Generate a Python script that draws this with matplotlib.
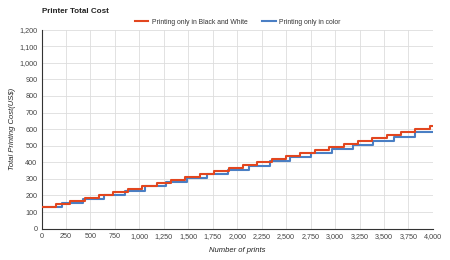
import matplotlib
matplotlib.use("Agg")
import matplotlib.pyplot as plt
from matplotlib.ticker import FuncFormatter

# Step points (prints, total cost in US$)
bw_prints = [0, 147, 294, 441, 588, 735, 882, 1029, 1176, 1323, 1470, 1617, 1764,
             1911, 2058, 2205, 2352, 2499, 2646, 2793, 2940, 3087, 3234, 3381,
             3528, 3675, 3822, 3969, 4000]
bw_cost = [130, 148, 166, 184, 202, 220, 238, 256, 274, 292, 310, 328, 346,
           364, 382, 400, 418, 436, 454, 472, 490, 508, 526, 544,
           562, 580, 598, 616, 616]

color_prints = [0, 212, 424, 636, 848, 1060, 1272, 1484, 1696, 1908, 2120, 2332,
                2544, 2756, 2968, 3180, 3392, 3604, 3816, 4000]
color_cost = [130, 155, 180, 205, 230, 255, 280, 305, 330, 355, 380, 405,
              430, 455, 480, 505, 530, 555, 580, 580]

x_ticks = list(range(0, 4001, 250))
y_ticks = list(range(0, 1201, 100))

plt.rcParams["font.family"] = ["Liberation Sans", "DejaVu Sans"]

fig = plt.figure(figsize=(4.5, 2.6), dpi=100)
ax = fig.add_axes([0.0924, 0.1204, 0.8696, 0.7661])

ax.step(color_prints, color_cost, where="post", color="#4a7fc4", lw=1.5,
        label="Printing only in color", zorder=3)
ax.step(bw_prints, bw_cost, where="post", color="#e2461f", lw=1.5,
        label="Printing only in Black and White", zorder=4)

ax.set_xlim(0, 4000)
ax.set_ylim(0, 1200)
ax.set_xticks(x_ticks)
ax.set_yticks(y_ticks)
fmt = FuncFormatter(lambda v, p: f"{int(v):,}")
ax.xaxis.set_major_formatter(fmt)
ax.yaxis.set_major_formatter(fmt)
ax.tick_params(length=0, labelsize=5.2, labelcolor="#444444", pad=3)
ax.grid(True, color="#dddddd", lw=0.6)
ax.set_axisbelow(True)
for s in ["top", "right"]:
    ax.spines[s].set_visible(False)
for s in ["left", "bottom"]:
    ax.spines[s].set_color("#333333")
    ax.spines[s].set_linewidth(0.8)

ax.set_xlabel("Number of prints", fontsize=5.5, style="italic", color="#222222", labelpad=5)
ax.set_ylabel("Total Printing Cost(US$)", fontsize=5.5, style="italic", color="#222222", labelpad=2)

fig.text(0.093, 0.955, "Printer Total Cost", fontsize=5.8, fontweight="bold",
         ha="left", va="center", color="#222222")

handles, labels = ax.get_legend_handles_labels()
ax.legend(handles[::-1], labels[::-1], ncol=2, frameon=False, fontsize=4.9,
          loc="center", bbox_to_anchor=(0.528, 0.915), bbox_transform=fig.transFigure,
          handlelength=2.0, handletextpad=0.5, columnspacing=2.2, labelcolor="#333333")

fig.savefig("out.png", dpi=100, facecolor="white")
